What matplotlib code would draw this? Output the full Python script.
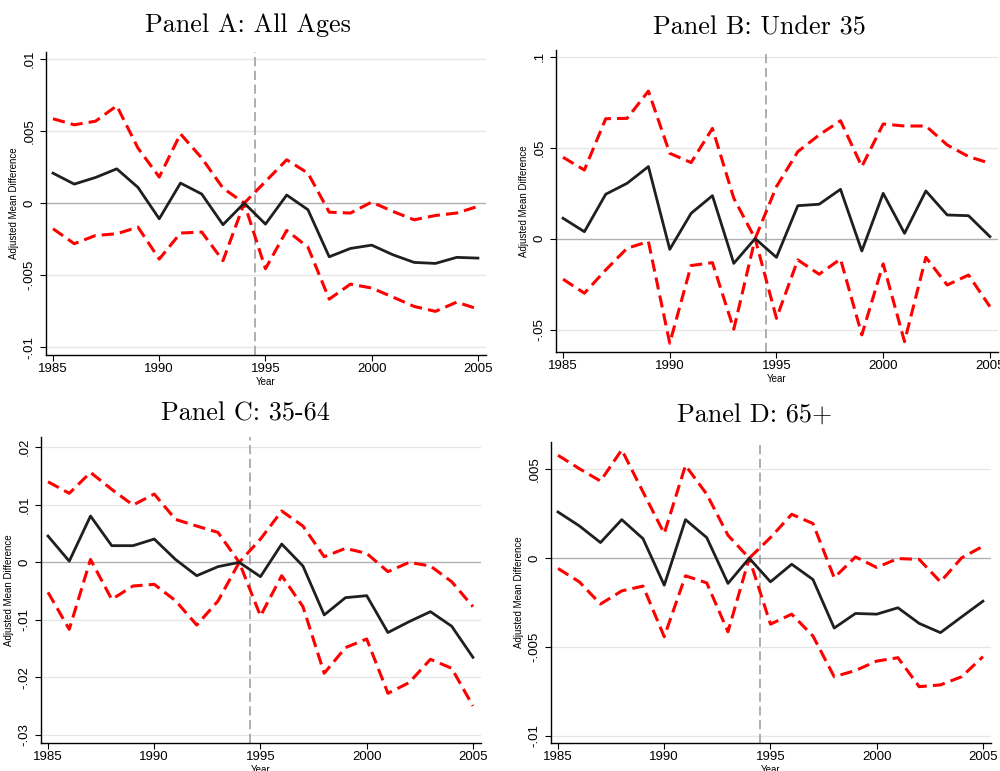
import matplotlib
matplotlib.use("Agg")
import matplotlib.pyplot as plt
import matplotlib.ticker as mticker

years = list(range(1985, 2006))

# Panel A: All Ages
a_est = [0.00208, 0.00132, 0.00178, 0.00238, 0.00109, -0.00109, 0.00139, 0.00063, -0.0015, 0.0,
         -0.00146, 0.00056, -0.00046, -0.00373, -0.00315, -0.00292, -0.00359, -0.00412, -0.00419,
         -0.00377, -0.00382]
a_hi = [0.00586, 0.00544, 0.00569, 0.00676, 0.00382, 0.00181, 0.00481, 0.00313, 0.00104, 0.0,
        0.0015, 0.00301, 0.00208, -0.00063, -0.00069, 0.00007, -0.00058, -0.00116, -0.00086,
        -0.00069, -0.00023]
a_lo = [-0.00178, -0.00282, -0.00225, -0.00213, -0.00167, -0.00389, -0.00208, -0.00201, -0.004, 0.0,
        -0.00456, -0.0019, -0.00306, -0.00667, -0.00563, -0.0059, -0.00653, -0.00718, -0.00752,
        -0.00688, -0.00736]

# Panel B: Under 35
b_est = [0.0112, 0.0038, 0.0244, 0.0304, 0.0396, -0.0059, 0.0139, 0.0236, -0.0136, 0.0,
         -0.0103, 0.0181, 0.0189, 0.0271, -0.0068, 0.0249, 0.0029, 0.0262, 0.013, 0.0126, 0.0011]
b_hi = [0.0447, 0.0377, 0.0659, 0.0661, 0.0811, 0.0469, 0.0418, 0.0606, 0.0222, 0.0,
        0.0286, 0.0478, 0.057, 0.0648, 0.0396, 0.063, 0.0619, 0.0619, 0.0515, 0.0451, 0.0414]
b_lo = [-0.0223, -0.03, -0.0172, -0.0053, -0.0016, -0.0575, -0.0148, -0.0132, -0.0498, 0.0,
        -0.0438, -0.0117, -0.0196, -0.0112, -0.0529, -0.0139, -0.0566, -0.0103, -0.0255, -0.02, -0.0374]

# Panel C: 35-64
c_est = [0.00457, 0.0002, 0.00805, 0.0029, 0.0029, 0.00405, 0.0005, -0.00232, -0.00075, 0.0,
         -0.00249, 0.00318, -0.00064, -0.00914, -0.00614, -0.00579, -0.0122, -0.0103, -0.00857,
         -0.0111, -0.0165]
c_hi = [0.014, 0.012, 0.01563, 0.01268, 0.00996, 0.01187, 0.00747, 0.00631, 0.00521, 0.0,
        0.00405, 0.00892, 0.00631, 0.00098, 0.00243, 0.00156, -0.00162, 0.0, -0.00064,
        -0.00336, -0.0077]
c_lo = [-0.00521, -0.01164, 0.0005, -0.00643, -0.00411, -0.00382, -0.00666, -0.01089, -0.00672, 0.0,
        -0.00932, -0.00232, -0.0077, -0.01928, -0.01482, -0.01332, -0.02276, -0.0209, -0.01685,
        -0.01841, -0.02496]

# Panel D: 65+
d_est = [0.0026, 0.00182, 0.00088, 0.00217, 0.0011, -0.00152, 0.00217, 0.00116, -0.00142, 0.0,
         -0.00133, -0.00034, -0.0012, -0.00393, -0.00311, -0.00315, -0.00279, -0.00367, -0.00419,
         -0.0033, -0.00242]
d_hi = [0.00579, 0.00504, 0.00434, 0.0061, 0.00373, 0.00139, 0.00522, 0.0036, 0.00129, 0.0,
        0.00116, 0.00247, 0.00195, -0.0011, 0.00007, -0.00052, -0.00002, -0.00007, -0.00133,
        0.00002, 0.00067]
d_lo = [-0.00058, -0.00133, -0.00258, -0.00184, -0.00157, -0.00442, -0.00099, -0.00139, -0.00414, 0.0,
        -0.00371, -0.00315, -0.00438, -0.00667, -0.00632, -0.00579, -0.0056, -0.00723, -0.00713,
        -0.00667, -0.00554]

titles = ["Panel A: All Ages", "Panel B: Under 35", "Panel C: 35-64", "Panel D: 65+"]
yticks = [
    [-0.01, -0.005, 0, 0.005, 0.01],
    [-0.05, 0, 0.05, 0.1],
    [-0.03, -0.02, -0.01, 0, 0.01, 0.02],
    [-0.01, -0.005, 0, 0.005],
]
ylims = [(-0.01055, 0.0105), (-0.0623, 0.1037), (-0.0314, 0.0218), (-0.0104, 0.00652)]
positions = [
    [0.046, 0.5396, 0.440, 0.393],
    [0.556, 0.5435, 0.442, 0.3917],
    [0.041, 0.0363, 0.440, 0.397],
    [0.551, 0.0363, 0.440, 0.390],
]
# title anchor (x centre, baseline) in figure fraction
title_pos = [(0.248, 0.9585), (0.759, 0.9559), (0.245, 0.454), (0.755, 0.4514)]
series = [(a_est, a_hi, a_lo), (b_est, b_hi, b_lo), (c_est, c_hi, c_lo), (d_est, d_hi, d_lo)]


def stata_fmt(v, pos):
    if abs(v) < 1e-12:
        return "0"
    s = f"{v:g}"
    return s.replace("0.", ".")


fig = plt.figure(figsize=(10, 7.71), dpi=100)
plt.rcParams["font.family"] = ["Liberation Sans", "DejaVu Sans"]

for i in range(4):
    ax = fig.add_axes(positions[i])
    est, hi, lo = series[i]
    for t in yticks[i]:
        if t == 0:
            ax.axhline(0, color="#b0b0b0", lw=1.0, zorder=1)
        else:
            ax.axhline(t, color="#e6e6e6", lw=0.9, zorder=1)
    ax.axvline(1994.5, color="#999999", lw=1.1, ls=(0, (6, 3)), zorder=1)
    ax.plot(years, hi, color="#ff0000", lw=2.2, dashes=(4, 2), zorder=3)
    ax.plot(years, lo, color="#ff0000", lw=2.2, dashes=(4, 2), zorder=3)
    ax.plot(years, est, color="#1f1f1f", lw=2.0, zorder=4)

    ax.set_xlim(1984.67, 2005.38)
    ax.set_ylim(*ylims[i])
    ax.set_xticks([1985, 1990, 1995, 2000, 2005])
    ax.set_yticks(yticks[i])
    ax.yaxis.set_major_formatter(mticker.FuncFormatter(stata_fmt))
    ax.tick_params(axis="y", labelrotation=90, labelsize=9.5, length=4, width=0.8)
    ax.tick_params(axis="x", labelsize=9.5, length=4, width=0.8, pad=2)
    for lab in ax.get_yticklabels():
        lab.set_va("center")
    ax.spines["right"].set_visible(False)
    ax.spines["top"].set_visible(False)
    ax.spines["left"].set_linewidth(1.0)
    ax.spines["bottom"].set_linewidth(1.0)
    ax.set_ylabel("Adjusted Mean Difference", fontsize=7, labelpad=3)
    ax.set_xlabel("Year", fontsize=7, labelpad=1)
    tx, ty = title_pos[i]
    fig.text(tx, ty, titles[i], family="cmr10", fontsize=18.8, ha="center", va="baseline")

fig.savefig("out.png", dpi=100, facecolor="white")
